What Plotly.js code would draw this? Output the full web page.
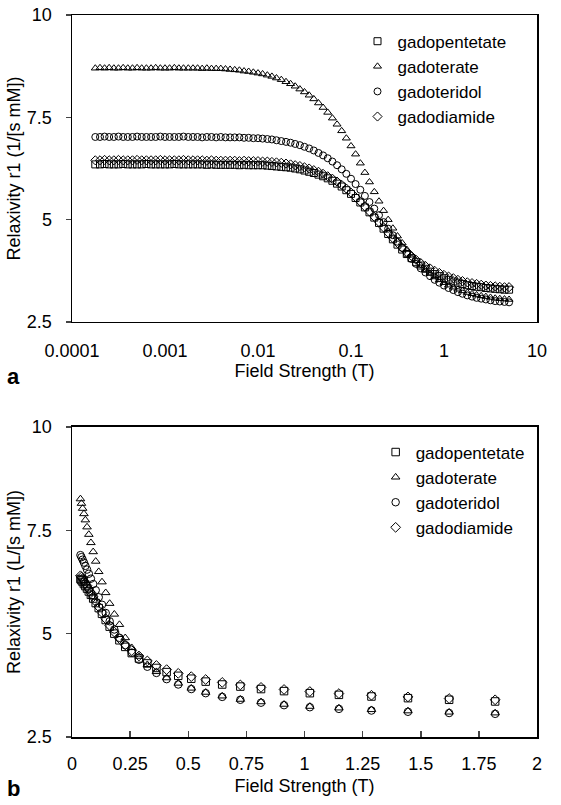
<!DOCTYPE html>
<html>
<head>
<meta charset="utf-8">
<script src="https://cdn.plot.ly/plotly-3.0.1.min.js"></script>
<style>html,body{margin:0;padding:0;background:#fff;}#chart{width:561px;height:805px;}</style>
</head>
<body>
<div id="chart"></div>
<script>
// ---------- Panel a: log field axis ----------
const fieldA = [
  0.000178, 0.000200, 0.000224, 0.000251, 0.000282, 0.000316, 0.000355, 0.000398, 0.000447, 0.000501, 0.000562, 0.000631, 0.000708, 0.000794, 0.000891,
  0.00100, 0.00112, 0.00126, 0.00141, 0.00158, 0.00178, 0.00200, 0.00224, 0.00251, 0.00282, 0.00316, 0.00355, 0.00398, 0.00447, 0.00501, 0.00562, 0.00631, 0.00708, 0.00794, 0.00891,
  0.0100, 0.0112, 0.0126, 0.0141, 0.0158, 0.0178, 0.0200, 0.0224, 0.0251, 0.0282, 0.0316, 0.0355, 0.0398, 0.0447, 0.0501, 0.0562, 0.0631, 0.0708, 0.0794, 0.0891,
  0.100, 0.112, 0.126, 0.141, 0.158, 0.178, 0.200, 0.224, 0.251, 0.282, 0.316, 0.355, 0.398, 0.447, 0.501, 0.562, 0.631, 0.708, 0.794, 0.891,
  1.00, 1.12, 1.26, 1.41, 1.58, 1.78, 2.00, 2.24, 2.51, 2.82, 3.16, 3.55, 3.98, 4.47, 5.01
];
const gadopentetateA = [
  6.35, 6.35, 6.36, 6.35, 6.35, 6.35, 6.36, 6.35, 6.35, 6.35, 6.35, 6.36, 6.35, 6.35, 6.35, 6.35, 6.35, 6.36, 6.35, 6.35, 6.35,
  6.35, 6.35, 6.35, 6.34, 6.35, 6.34, 6.34, 6.34, 6.34, 6.34, 6.33, 6.34, 6.33, 6.33, 6.33, 6.33, 6.32, 6.31, 6.30, 6.29,
  6.28, 6.27, 6.25, 6.23, 6.20, 6.17, 6.14, 6.10, 6.06, 6.01, 5.95, 5.88, 5.81, 5.72, 5.63, 5.53, 5.42, 5.30, 5.18, 5.05,
  4.92, 4.78, 4.65, 4.52, 4.39, 4.27, 4.16, 4.06, 3.96, 3.88, 3.80, 3.73, 3.67, 3.62, 3.57, 3.53, 3.49, 3.46, 3.43, 3.40,
  3.38, 3.36, 3.35, 3.33, 3.32, 3.31, 3.30, 3.29, 3.29
];
const gadoterateA = [
  8.70, 8.71, 8.70, 8.71, 8.70, 8.70, 8.71, 8.70, 8.70, 8.71, 8.70, 8.70, 8.70, 8.71, 8.70, 8.70, 8.70, 8.71, 8.70, 8.70, 8.70,
  8.70, 8.70, 8.69, 8.70, 8.69, 8.69, 8.69, 8.68, 8.67, 8.66, 8.65, 8.63, 8.62, 8.60, 8.58, 8.56, 8.53, 8.50, 8.46, 8.42,
  8.37, 8.32, 8.26, 8.19, 8.12, 8.04, 7.95, 7.85, 7.74, 7.62, 7.48, 7.33, 7.17, 6.99, 6.80, 6.60, 6.38, 6.15, 5.92, 5.68,
  5.45, 5.22, 5.00, 4.79, 4.60, 4.43, 4.27, 4.13, 4.00, 3.88, 3.78, 3.69, 3.60, 3.53, 3.46, 3.40, 3.35, 3.30, 3.26, 3.22,
  3.19, 3.16, 3.14, 3.12, 3.10, 3.08, 3.07, 3.06, 3.05
];
const gadoteridolA = [
  7.02, 7.02, 7.03, 7.02, 7.02, 7.03, 7.02, 7.02, 7.02, 7.03, 7.02, 7.02, 7.02, 7.02, 7.03, 7.02, 7.02, 7.02, 7.02, 7.03, 7.02,
  7.02, 7.02, 7.01, 7.02, 7.02, 7.01, 7.02, 7.01, 7.01, 7.01, 7.01, 7.00, 7.00, 6.99, 6.99, 6.98, 6.97, 6.96, 6.94, 6.92,
  6.90, 6.88, 6.85, 6.82, 6.78, 6.74, 6.69, 6.63, 6.57, 6.50, 6.42, 6.33, 6.23, 6.12, 6.00, 5.87, 5.73, 5.58, 5.43, 5.27,
  5.11, 4.94, 4.78, 4.62, 4.46, 4.31, 4.17, 4.04, 3.92, 3.81, 3.71, 3.62, 3.53, 3.46, 3.39, 3.33, 3.28, 3.23, 3.19, 3.15,
  3.12, 3.09, 3.07, 3.05, 3.03, 3.01, 3.00, 2.99, 2.98
];
const gadodiamideA = [
  6.45, 6.45, 6.46, 6.45, 6.45, 6.46, 6.45, 6.45, 6.45, 6.46, 6.45, 6.45, 6.45, 6.45, 6.46, 6.45, 6.45, 6.45, 6.45, 6.46, 6.45,
  6.45, 6.45, 6.45, 6.44, 6.45, 6.44, 6.44, 6.44, 6.44, 6.44, 6.43, 6.44, 6.43, 6.43, 6.43, 6.42, 6.42, 6.41, 6.40, 6.39,
  6.37, 6.35, 6.33, 6.31, 6.28, 6.25, 6.21, 6.17, 6.12, 6.06, 6.00, 5.93, 5.85, 5.76, 5.66, 5.55, 5.44, 5.32, 5.20, 5.07,
  4.94, 4.81, 4.68, 4.55, 4.43, 4.32, 4.21, 4.11, 4.02, 3.94, 3.87, 3.81, 3.75, 3.70, 3.65, 3.61, 3.57, 3.53, 3.50, 3.47,
  3.45, 3.43, 3.41, 3.39, 3.38, 3.37, 3.36, 3.35, 3.35
];

// ---------- Panel b: linear field axis ----------
const fieldB = [
  0.0363, 0.0407, 0.0457, 0.0513, 0.0575, 0.0646, 0.0724, 0.0813, 0.0912, 0.102, 0.115, 0.129, 0.145, 0.162, 0.182,
  0.204, 0.229, 0.257, 0.288, 0.324, 0.363, 0.407, 0.457, 0.513, 0.575, 0.646, 0.724, 0.813, 0.912, 1.023,
  1.148, 1.288, 1.445, 1.622, 1.820
];
const gadopentetateB = [
  6.32, 6.29, 6.25, 6.20, 6.15, 6.09, 6.02, 5.94, 5.85, 5.74, 5.62, 5.48, 5.33, 5.17, 5.00,
  4.84, 4.68, 4.53, 4.40, 4.28, 4.17, 4.07, 3.98, 3.91, 3.84, 3.77, 3.72, 3.66, 3.61, 3.56,
  3.52, 3.48, 3.44, 3.40, 3.36
];
const gadoterateB = [
  8.26, 8.15, 8.03, 7.90, 7.75, 7.58, 7.40, 7.20, 6.98, 6.75, 6.50, 6.25, 5.99, 5.73, 5.47,
  5.22, 4.90, 4.66, 4.45, 4.25, 4.08, 3.93, 3.80, 3.68, 3.58, 3.49, 3.41, 3.35, 3.29, 3.24,
  3.20, 3.16, 3.13, 3.10, 3.08
];
const gadoteridolB = [
  6.90, 6.85, 6.79, 6.72, 6.64, 6.55, 6.45, 6.33, 6.20, 6.05, 5.88, 5.70, 5.50, 5.30, 5.10,
  4.90, 4.72, 4.54, 4.37, 4.20, 4.05, 3.90, 3.77, 3.66, 3.56, 3.47, 3.40, 3.33, 3.27, 3.22,
  3.18, 3.14, 3.11, 3.08, 3.06
];
const gadodiamideB = [
  6.40, 6.37, 6.33, 6.28, 6.22, 6.16, 6.08, 5.99, 5.89, 5.78, 5.65, 5.51, 5.36, 5.20, 5.04,
  4.88, 4.73, 4.59, 4.46, 4.34, 4.23, 4.13, 4.04, 3.96, 3.89, 3.82, 3.76, 3.70, 3.65, 3.60,
  3.55, 3.51, 3.47, 3.43, 3.40
];

const seriesNames = ["gadopentetate", "gadoterate", "gadoteridol", "gadodiamide"];
const symbols = ["square-open", "triangle-up-open", "circle-open", "diamond-open"];

const logTickVals = [0.0001, 0.001, 0.01, 0.1, 1, 10];
const logTickText = ["0.0001", "0.001", "0.01", "0.1", "1", "10"];
const yTickVals = [2.5, 5, 7.5, 10];
const yTickText = ["2.5", "5", "7.5", "10"];
const xTitle = "Field Strength (T)";
const yTitleA = "Relaxivity r1 (1/[s mM])";
const yTitleB = "Relaxivity r1 (L/[s mM])";

const ysA = [gadopentetateA, gadoterateA, gadoteridolA, gadodiamideA];
const ysB = [gadopentetateB, gadoterateB, gadoteridolB, gadodiamideB];

const traces = [];
seriesNames.forEach((n, i) => {
  traces.push({
    type: "scatter", mode: "markers", name: n, x: fieldA, y: ysA[i],
    xaxis: "x", yaxis: "y", legend: "legend",
    marker: {symbol: symbols[i], size: 7, color: "#000", line: {width: 1, color: "#000"}}
  });
});
seriesNames.forEach((n, i) => {
  traces.push({
    type: "scatter", mode: "markers", name: n, x: fieldB, y: ysB[i],
    xaxis: "x2", yaxis: "y2", legend: "legend2",
    marker: {symbol: symbols[i], size: 7.5, color: "#000", line: {width: 1, color: "#000"}}
  });
});

const FONT = "Liberation Sans, Arial, Helvetica, sans-serif";
const FS = 18;
const LFS = 17;
const axisBase = {
  showline: true, mirror: true, linecolor: "#000", linewidth: 1.5,
  showgrid: false, zeroline: false,
  tickfont: {family: FONT, size: FS, color: "#000"}
};

const layout = {
  width: 561, height: 805,
  margin: {l: 72, r: 24, t: 15, b: 68},
  paper_bgcolor: "#fff", plot_bgcolor: "#fff",
  font: {family: FONT, size: FS, color: "#000"},
  showlegend: true,
  xaxis: Object.assign({}, axisBase, {
    type: "log", range: [-4, 1], anchor: "y", domain: [0, 1],
    tickmode: "array", tickvals: logTickVals, ticktext: logTickText,
    ticks: "", ticklabelstandoff: 12,
    title: {text: xTitle, font: {family: FONT, size: FS}, standoff: 4}
  }),
  yaxis: Object.assign({}, axisBase, {
    range: [2.5, 10], domain: [0.5748, 1], anchor: "x",
    tickmode: "array", tickvals: yTickVals, ticktext: yTickText,
    ticks: "outside", ticklen: 5, tickwidth: 1.5, ticklabelstandoff: 10,
    title: {text: yTitleA, font: {family: FONT, size: FS}, standoff: 1}
  }),
  xaxis2: Object.assign({}, axisBase, {
    range: [0, 2], anchor: "y2", domain: [0, 1], dtick: 0.25, tick0: 0,
    ticks: "inside", ticklen: 6, tickwidth: 1.5, ticklabelstandoff: 10,
    title: {text: xTitle, font: {family: FONT, size: FS}, standoff: 6}
  }),
  yaxis2: Object.assign({}, axisBase, {
    range: [2.5, 10], domain: [0, 0.4294], anchor: "x2",
    tickmode: "array", tickvals: yTickVals, ticktext: yTickText,
    ticks: "outside", ticklen: 5, tickwidth: 1.5, ticklabelstandoff: 10,
    title: {text: yTitleB, font: {family: FONT, size: FS}, standoff: 1}
  }),
  legend: {
    x: 0.614, y: 0.988, xanchor: "left", yanchor: "top",
    bgcolor: "rgba(0,0,0,0)", borderwidth: 0,
    font: {family: FONT, size: LFS, color: "#000"},
    itemwidth: 30, tracegroupgap: 0
  },
  legend2: {
    x: 0.653, y: 0.419, xanchor: "left", yanchor: "top",
    bgcolor: "rgba(0,0,0,0)", borderwidth: 0,
    font: {family: FONT, size: LFS, color: "#000"},
    itemwidth: 30, tracegroupgap: 0
  },
  annotations: [
    {text: "<b>a</b>", xref: "paper", yref: "paper", x: -0.125, y: 0.50, xanchor: "center", yanchor: "middle", showarrow: false, font: {family: FONT, size: 22}},
    {text: "<b>b</b>", xref: "paper", yref: "paper", x: -0.125, y: -0.0915, xanchor: "center", yanchor: "bottom", showarrow: false, font: {family: FONT, size: 22}}
  ]
};

Plotly.newPlot("chart", traces, layout, {displayModeBar: false, staticPlot: true});
</script>
</body>
</html>
